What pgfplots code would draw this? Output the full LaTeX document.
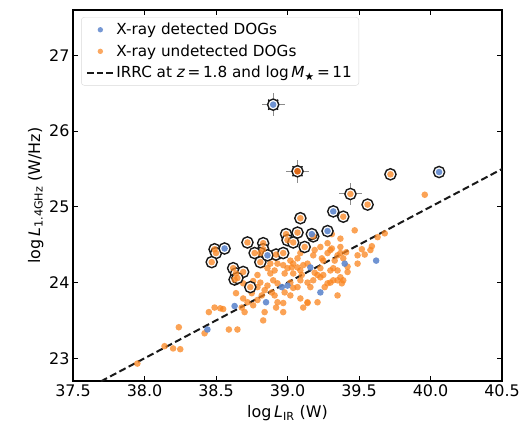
\documentclass[border=0pt]{standalone}
\usepackage{pgfplots}
\pgfplotsset{compat=1.18}
\usepackage{pgfplotstable}
\usepackage{fontspec}
\setmainfont{DejaVu Sans}
\definecolor{dogorange}{RGB}{250,132,30}
\definecolor{dogblue}{RGB}{95,135,205}
\definecolor{darkorange}{RGB}{220,105,25}

\pgfplotstableread{
x y
37.95 22.93
38.14 23.16
38.20 23.13
38.25 23.12
38.24 23.41
38.42 23.33
38.45 23.61
38.49 23.67
38.53 23.66
38.55 23.65
38.59 23.38
38.65 23.38
38.64 23.86
38.68 23.67
38.70 23.61
38.69 23.79
38.72 23.74
38.76 23.70
38.75 23.86
38.79 23.77
38.83 23.50
38.84 23.61
38.82 23.83
38.81 24.00
38.86 23.96
38.88 24.12
38.91 23.83
38.92 23.67
38.90 24.03
38.93 23.99
38.97 23.61
38.97 23.73
38.98 24.12
38.97 24.23
39.03 24.20
39.04 24.12
39.09 24.03
39.07 23.94
39.09 23.79
39.11 23.67
39.14 23.74
39.16 23.94
39.19 24.13
39.18 24.03
39.23 24.07
39.28 23.99
39.30 24.16
39.35 23.83
39.33 24.29
39.37 24.47
39.49 24.25
39.37 24.07
39.32 24.03
39.18 24.36
39.23 24.47
39.30 24.43
39.35 24.36
39.07 24.32
39.09 24.39
39.28 24.39
39.25 24.29
39.32 24.19
39.23 24.19
39.21 24.10
38.95 24.39
38.91 24.33
38.88 24.25
38.86 24.19
38.82 24.23
38.79 24.10
38.76 24.02
38.69 23.99
38.79 23.94
38.89 23.87
38.93 23.74
39.02 23.83
39.04 23.93
39.02 24.00
38.98 23.87
38.84 23.90
38.91 24.16
39.10 24.10
39.14 24.00
39.07 24.20
39.11 24.23
39.00 24.19
38.93 24.25
39.02 24.29
39.14 23.73
39.21 23.74
39.09 24.16
39.14 24.25
39.04 24.25
39.30 24.00
39.38 23.99
39.26 23.94
39.25 24.10
39.35 24.16
39.42 24.14
39.35 24.03
39.42 24.21
39.39 24.03
39.54 24.37
39.58 24.43
39.52 24.44
39.59 24.48
39.63 24.60
39.68 24.65
39.47 24.69
39.37 24.58
39.31 24.64
39.31 24.45
39.41 24.40
39.39 24.32
39.49 24.36
39.37 24.39
39.28 24.52
39.19 24.43
39.24 24.32
39.96 25.16
}\orangeplain

\pgfplotstableread{
x y
38.44 23.38
38.63 23.69
38.85 23.74
38.96 23.94
39.00 23.96
39.16 24.20
39.23 23.87
39.40 24.25
39.62 24.29
}\blueplain

\pgfplotstableread{
x y
39.72 25.43
39.56 25.03
39.39 24.87
39.09 24.85
39.07 24.66
38.99 24.64
39.18 24.61
39.00 24.56
39.04 24.53
39.12 24.47
38.72 24.53
38.83 24.52
38.83 24.44
38.81 24.39
38.77 24.39
38.92 24.37
38.97 24.39
38.81 24.27
38.49 24.44
38.50 24.39
38.47 24.27
38.62 24.19
38.64 24.12
38.69 24.14
38.63 24.04
38.65 24.06
38.74 23.94
39.44 25.17
39.07 25.47
}\orangering

\pgfplotstableread{
x y
38.56 24.45
38.86 24.36
39.17 24.64
39.28 24.68
39.32 24.94
40.06 25.46
38.90 26.35
}\bluering

\pgfplotstableread{
x y ex ey
38.90 26.35 0.08 0.15
39.07 25.47 0.08 0.15
39.44 25.17 0.08 0.15
}\errpts

\pgfplotstableread{
x y
38.90 26.35
39.07 25.47
}\xmarks

\pgfplotstableread{
x y
37.5 22.5
40.5 25.5
}\irrc

\begin{document}
\begin{tikzpicture}
\begin{axis}[
  scale only axis, width=429bp, height=371bp,
  xmin=37.5, xmax=40.5, ymin=22.7, ymax=27.6,
  xtick={37.5,38.0,38.5,39.0,39.5,40.0,40.5},
  ytick={23,24,25,26,27},
  xticklabel style={/pgf/number format/.cd, fixed, fixed zerofill, precision=1},
  /pgf/number format/assume math mode=true,
  ticklabel style={font=\fontsize{16}{19}\selectfont},
  label style={font=\fontsize{16}{19}\selectfont},
  tick align=inside, major tick length=5bp,
  tick style={black, line width=0.8bp},
  axis line style={line width=1.1bp},
  xlabel={log\,\textit{L}\textsubscript{IR} (W)},
  ylabel={log\,\textit{L}\textsubscript{1.4GHz} (W/Hz)},
  xlabel style={yshift=-2bp},
  ylabel style={yshift=-1bp},
  clip=true,
  legend cell align=left,
  legend style={at={(0.019,0.981)}, anchor=north west,
    font=\fontsize{15.3}{18}\selectfont,
    draw=black!15, rounded corners=3bp, fill=white, fill opacity=0.8, text opacity=1,
    inner xsep=5bp, inner ysep=4bp, row sep=4.5bp,
    /tikz/every even column/.append style={column sep=3bp}},
]
\addlegendimage{legend image code/.code={\path[draw=none,fill=none,opacity=0] (0bp,-2bp) rectangle (26bp,2bp); \fill[dogblue,fill opacity=0.85,draw=none] (13bp,0bp) circle (2.7bp);}}
\addlegendentry{X-ray detected DOGs}
\addlegendimage{legend image code/.code={\path[draw=none,fill=none,opacity=0] (0bp,-2bp) rectangle (26bp,2bp); \fill[dogorange,fill opacity=0.7,draw=none] (13bp,0bp) circle (2.7bp);}}
\addlegendentry{X-ray undetected DOGs}
\addlegendimage{legend image code/.code={\draw[black!90, line width=2bp, dash pattern=on 6.5bp off 3bp] (0bp,0bp) -- (26bp,0bp);}}
\addlegendentry{IRRC at \textit{z}\,=\,1.8 and log\,\textit{M}\textsubscript{\char"2605}\,=\,11}

% plain points
\addplot[forget plot, only marks, mark=*, mark size=3.3bp, color=dogorange, mark options={fill=dogorange, draw opacity=0, fill opacity=0.75, line width=0pt}] table[x=x,y=y]{\orangeplain};
\addplot[forget plot, only marks, mark=*, mark size=3.3bp, color=dogblue, mark options={fill=dogblue, draw opacity=0, fill opacity=0.9, line width=0pt}] table[x=x,y=y]{\blueplain};
% IRRC line
\addplot[forget plot, black!90, line width=2bp, dash pattern=on 7bp off 3.5bp] table[x=x,y=y]{\irrc};
% error bars
\addplot[forget plot, only marks, mark=none,
  error bars/.cd, x dir=both, x explicit, y dir=both, y explicit,
  error bar style={draw=black!45, line width=1bp}, error mark=none]
  table[x=x,y=y,x error=ex,y error=ey]{\errpts};
% x marks
\addplot[forget plot, only marks, mark=x, mark size=7bp, color=black, mark options={black, line width=1.3bp}] table[x=x,y=y]{\xmarks};
% rings
\addplot[forget plot, only marks, mark=*, mark size=5.6bp, color=black, mark options={draw=black!90, fill=white, line width=1.4bp}] table[x=x,y=y]{\orangering};
\addplot[forget plot, only marks, mark=*, mark size=5.6bp, color=black, mark options={draw=black!90, fill=white, line width=1.4bp}] table[x=x,y=y]{\bluering};
% ringed dots
\addplot[forget plot, only marks, mark=*, mark size=3.3bp, color=dogorange, mark options={fill=dogorange, draw opacity=0, fill opacity=0.75, line width=0pt}] table[x=x,y=y]{\orangering};
\addplot[forget plot, only marks, mark=*, mark size=3.3bp, color=dogblue, mark options={fill=dogblue, draw opacity=0, fill opacity=0.9, line width=0pt}] table[x=x,y=y]{\bluering};
\addplot[forget plot, only marks, mark=*, mark size=3.3bp, color=darkorange, mark options={fill=darkorange, draw opacity=0, line width=0pt}] coordinates {(39.07,25.47)};
\end{axis}
\pgfresetboundingbox
\path ([shift={(-73bp,-46bp)}]current axis.south west) rectangle ([shift={(21bp,10bp)}]current axis.north east);
\end{tikzpicture}
\end{document}
